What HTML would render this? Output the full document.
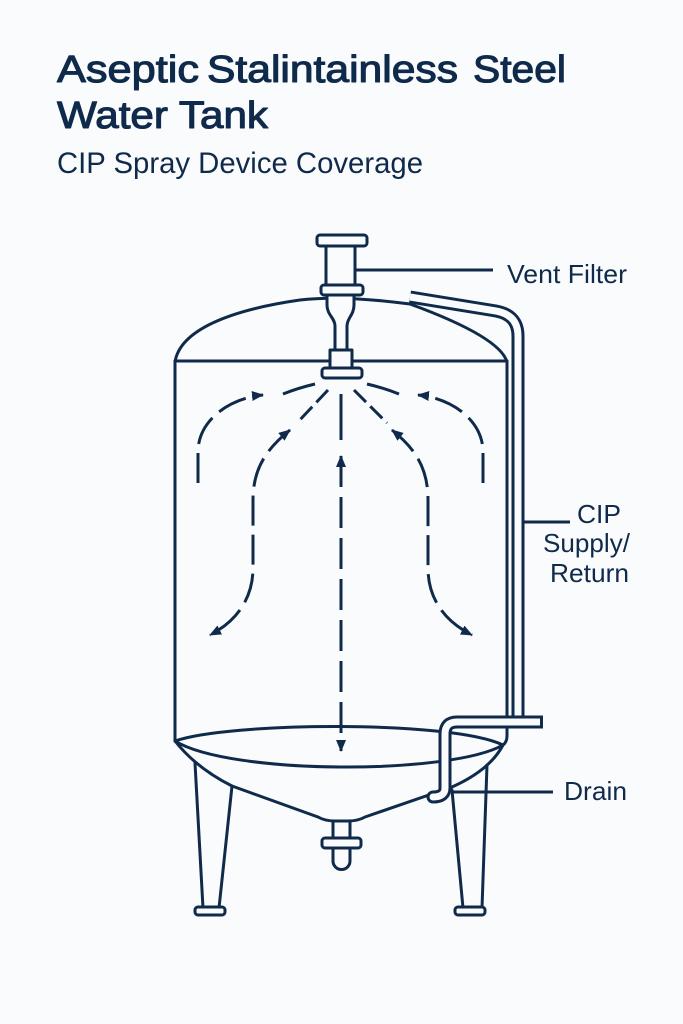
<!DOCTYPE html>
<html>
<head>
<meta charset="utf-8">
<style>
  html, body { margin: 0; padding: 0; background: #fafbfc; }
  body { width: 683px; height: 1024px; overflow: hidden; }
  svg { display: block; }
  text { font-family: "Liberation Sans", "DejaVu Sans", sans-serif; fill: #0f2a4b; }
  .t { stroke: #0f2a4b; stroke-width: 1.1; stroke-linejoin: round; }
</style>
</head>
<body>
<svg width="683" height="1024" viewBox="0 0 683 1024" xmlns="http://www.w3.org/2000/svg">
  <defs>
    <marker id="ah" markerUnits="userSpaceOnUse" markerWidth="14" markerHeight="12" refX="11" refY="5" orient="auto-start-reverse">
      <path d="M0,0 L12,5 L0,10 Z" fill="#0f2a4b"/>
    </marker>
  </defs>
  <rect x="0" y="0" width="683" height="1024" fill="#fafbfc"/>

  <!-- Titles -->
  <text class="t" x="57" y="82" font-size="38" textLength="142" lengthAdjust="spacingAndGlyphs">Aseptic</text>
  <text class="t" x="207" y="82" font-size="38" textLength="251" lengthAdjust="spacingAndGlyphs">Stalintainless</text>
  <text class="t" x="473" y="82" font-size="38" textLength="93" lengthAdjust="spacingAndGlyphs">Steel</text>
  <text class="t" x="57" y="128" font-size="38" textLength="211" lengthAdjust="spacingAndGlyphs">Water Tank</text>
  <text x="57" y="173" font-size="30" textLength="366" lengthAdjust="spacingAndGlyphs">CIP Spray Device Coverage</text>

  <g fill="none" stroke="#0f2a4b" stroke-width="3" stroke-linecap="round" stroke-linejoin="round">
    <!-- Dome -->
    <path d="M175,362 C180,330 230,310 300,300 Q341,295 410,304 Q500,337 507,362"/>
    <!-- Dome base line -->
    <path d="M175,361 H507"/>
    <!-- Walls -->
    <path d="M175,361 V741"/>
    <path d="M507,361 V736 Q507,742 503,745"/>
    <!-- Bottom ellipse -->
    <path d="M175,741 C230,722 450,720 503,745"/>
    <path d="M175,741 C230,775 450,775 503,745"/>
    <!-- Cone -->
    <path d="M175,741 C190,760 210,775 232,786 L318,817 Q325,821 335,821 H348 Q358,821 365,817 L452,787 Q490,770 503,745"/>
    <!-- Outlet -->
    <path d="M333,821 V838 M350,821 V838"/>
    <rect x="322" y="838" width="39" height="10" rx="3" fill="#fafbfc"/>
    <path d="M333,848 V861 A8.5,8.5 0 0 0 350,861 V848"/>
    <!-- Legs -->
    <path d="M195,763 L203,908"/>
    <path d="M232,786 L219,908"/>
    <rect x="195" y="907" width="30" height="8" rx="3" fill="#fafbfc"/>
    <path d="M487,765 L482,908"/>
    <path d="M452,790 L463,908"/>
    <rect x="455" y="907" width="30" height="8" rx="3" fill="#fafbfc"/>

    <!-- Vent filter + spray device -->
    <rect x="317" y="235" width="50" height="11" rx="3" fill="#fafbfc"/>
    <rect x="326" y="246" width="29" height="39" fill="#fafbfc"/>
    <rect x="321" y="285" width="42" height="10" rx="3" fill="#fafbfc"/>
    <path d="M327,295 V305 C327,315 335,318 335,326 V350 H347 V326 C347,318 354,315 354,305 V295 Z" fill="#fafbfc"/>
    <rect x="330" y="350" width="22" height="18" fill="#fafbfc"/>
    <rect x="322" y="368" width="40" height="10" rx="3" fill="#fafbfc"/>

    <!-- Leaders -->
    <path d="M355,270 H493" stroke-linecap="butt"/>
    <path d="M524,522 H570" stroke-linecap="butt"/>
    <path d="M451,792 H553" stroke-linecap="butt"/>
  </g>

  <!-- CIP pipe (double-stroke outline) -->
  <path d="M410,297 L496,311 Q518,315 518,336 V717" fill="none" stroke="#0f2a4b" stroke-width="13" stroke-linecap="butt" stroke-linejoin="round"/>
  <path d="M410,297 L496,311 Q518,315 518,336 V718" fill="none" stroke="#fafbfc" stroke-width="7" stroke-linecap="butt" stroke-linejoin="round"/>
  <!-- Horizontal band + drain pipe -->
  <path d="M540,722 H457 Q445,722 445,734 V788 Q445,797 433,797" fill="none" stroke="#0f2a4b" stroke-width="13" stroke-linecap="round" stroke-linejoin="round"/>
  <path d="M540,722 H457 Q445,722 445,734 V788 Q445,797 433,797" fill="none" stroke="#fafbfc" stroke-width="7" stroke-linecap="round" stroke-linejoin="round"/>
  <rect x="543" y="713" width="9" height="18" fill="#fafbfc"/>
  <path d="M541.5,715.5 V728.5" stroke="#0f2a4b" stroke-width="3"/>

  <!-- Spray pattern -->
  <g fill="none" stroke="#0f2a4b" stroke-width="3" stroke-linecap="butt">
    <path d="M315,384 Q298,388 283,394"/>
    <path d="M367,384 Q384,388 399,394"/>
    <path d="M328,390 L297,423" stroke-dasharray="17 6"/>
    <path d="M354,390 L387,423" stroke-dasharray="17 6"/>
    <path d="M341,394 V440"/>
    <path d="M341,456 V751" stroke-dasharray="31 10" marker-start="url(#ah)" marker-end="url(#ah)"/>
    <!-- outer curves -->
    <path d="M198,483 V452 C198,420 230,398 263,395" stroke-dasharray="30 9" marker-end="url(#ah)"/>
    <path d="M483,483 V452 C483,420 451,398 418,395" stroke-dasharray="30 9" marker-end="url(#ah)"/>
    <!-- inner curves -->
    <path d="M290,430 C265,450 253,470 253,500 V568 C253,600 235,622 210,635" stroke-dasharray="30 9" marker-start="url(#ah)" marker-end="url(#ah)"/>
    <path d="M392,430 C417,450 428,470 428,500 V568 C428,600 446,622 472,635" stroke-dasharray="30 9" marker-start="url(#ah)" marker-end="url(#ah)"/>
  </g>

  <!-- Labels -->
  <text x="507" y="283" font-size="26" textLength="120" lengthAdjust="spacingAndGlyphs">Vent Filter</text>
  <text x="577" y="523" font-size="26" textLength="44" lengthAdjust="spacingAndGlyphs">CIP</text>
  <text x="543" y="552" font-size="26" textLength="87" lengthAdjust="spacingAndGlyphs">Supply/</text>
  <text x="550" y="582" font-size="26" textLength="79" lengthAdjust="spacingAndGlyphs">Return</text>
  <text x="564" y="800" font-size="26" textLength="63" lengthAdjust="spacingAndGlyphs">Drain</text>
</svg>
</body>
</html>
